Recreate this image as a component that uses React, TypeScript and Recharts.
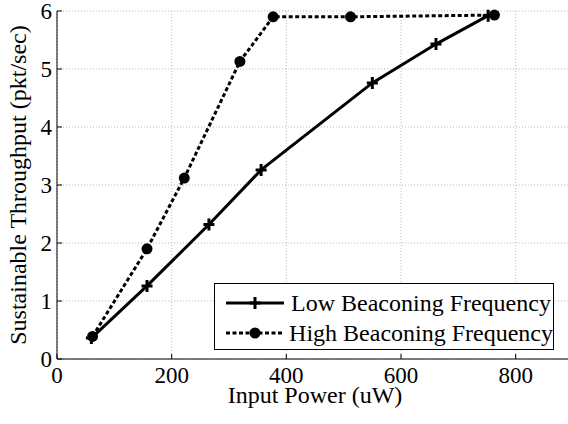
import { LineChart, Line, XAxis, YAxis, CartesianGrid, Legend } from "recharts";

const lowPower = [60, 157, 265, 356, 550, 661, 752];
const lowThroughput = [0.36, 1.26, 2.32, 3.26, 4.76, 5.43, 5.92];
const highPower = [62, 157, 222, 319, 377, 512, 763];
const highThroughput = [0.39, 1.9, 3.12, 5.13, 5.9, 5.9, 5.93];

const xTicks = [0, 200, 400, 600, 800];
const yTicks = [0, 1, 2, 3, 4, 5, 6];
const seriesNames = ["Low Beaconing Frequency", "High Beaconing Frequency"];
const xTitle = "Input Power (uW)";
const yTitle = "Sustainable Throughput (pkt/sec)";

const lowData = lowPower.map((x, i) => ({ x, y: lowThroughput[i] }));
const highData = highPower.map((x, i) => ({ x, y: highThroughput[i] }));

const FONT = "Liberation Serif, Times New Roman, serif";

function XTick(props: any) {
    const { x, y, payload } = props;
    return (
        <text x={x} y={y} dy="0.71em" textAnchor="middle" fill="#000" fontSize={23} fontFamily={FONT}>
            {payload.value}
        </text>
    );
}

function YTick(props: any) {
    const { x, y, payload } = props;
    return (
        <text x={x} y={y} dy="0.355em" textAnchor="end" fill="#000" fontSize={23} fontFamily={FONT}>
            {payload.value}
        </text>
    );
}

function PlusDot(props: any) {
    const { cx, cy } = props;
    if (cx == null || cy == null) return <g />;
    return (
        <path
            d={`M${cx - 5.5},${cy}H${cx + 5.5}M${cx},${cy - 6}V${cy + 6}`}
            stroke="#000"
            strokeWidth={3}
            fill="none"
        />
    );
}

function LegendBox() {
    return (
        <div
            style={{
                width: 340,
                height: 67,
                boxSizing: "border-box",
                border: "1px solid #000",
                background: "#fff",
                fontFamily: FONT,
                fontSize: 24,
                color: "#000",
                paddingTop: 4,
            }}
        >
            {seriesNames.map((name, i) => (
                <div
                    key={name}
                    style={{ display: "flex", alignItems: "center", height: 30, paddingLeft: 11 }}
                >
                    <svg width={58} height={16} style={{ marginRight: 7 }}>
                        <line
                            x1={0}
                            x2={58}
                            y1={8}
                            y2={8}
                            stroke="#000"
                            strokeWidth={3}
                            strokeDasharray={i === 1 ? "4 2.5" : undefined}
                        />
                        {i === 0 ? (
                            <path d="M23.5,8H34.5M29,2V14" stroke="#000" strokeWidth={3} />
                        ) : (
                            <circle cx={29} cy={8} r={5.5} fill="#000" />
                        )}
                    </svg>
                    <span style={{ whiteSpace: "nowrap", lineHeight: "30px" }}>{name}</span>
                </div>
            ))}
        </div>
    );
}

export default function App() {
    return (
        <div
            style={{
                position: "absolute",
                left: 0,
                top: 0,
                width: 568,
                height: 424,
                overflow: "hidden",
                background: "#fff",
            }}
        >
            <LineChart
                width={580}
                height={424}
                margin={{ top: 11, right: 7, bottom: 0, left: 0 }}
            >
                <CartesianGrid stroke="#b8b8b8" strokeDasharray="1 2" />
                <XAxis
                    type="number"
                    dataKey="x"
                    domain={[0, 900]}
                    ticks={xTicks}
                    allowDataOverflow
                    height={65}
                    tickSize={-5}
                    tickMargin={13}
                    tick={<XTick />}
                    axisLine={{ stroke: "#000" }}
                    tickLine={{ stroke: "#000" }}
                    label={{
                        content: (p: any) => {
                            const vb = p.viewBox || { x: 57, width: 516 };
                            return (
                                <text
                                    x={vb.x + vb.width / 2}
                                    y={403}
                                    textAnchor="middle"
                                    fill="#000"
                                    fontSize={24}
                                    fontFamily={FONT}
                                >
                                    {xTitle}
                                </text>
                            );
                        },
                    }}
                />
                <XAxis
                    xAxisId="top"
                    orientation="top"
                    type="number"
                    dataKey="x"
                    domain={[0, 900]}
                    ticks={xTicks}
                    height={0}
                    tickSize={-5}
                    tick={false}
                    axisLine={{ stroke: "#000" }}
                    tickLine={{ stroke: "#000" }}
                />
                <YAxis
                    type="number"
                    domain={[0, 6]}
                    ticks={yTicks}
                    width={57}
                    tickSize={-5}
                    tickMargin={10}
                    tick={<YTick />}
                    axisLine={{ stroke: "#000" }}
                    tickLine={{ stroke: "#000" }}
                    label={{
                        content: (p: any) => {
                            const vb = p.viewBox || { y: 11, height: 348 };
                            const cy = vb.y + vb.height / 2;
                            return (
                                <text
                                    x={25.5}
                                    y={cy}
                                    transform={`rotate(-90, 25.5, ${cy})`}
                                    textAnchor="middle"
                                    fill="#000"
                                    fontSize={24}
                                    fontFamily={FONT}
                                >
                                    {yTitle}
                                </text>
                            );
                        },
                    }}
                />
                <Legend
                    layout="vertical"
                    align="center"
                    verticalAlign="middle"
                    wrapperStyle={{ left: 214, top: 283, width: 340, height: 67 }}
                    content={() => <LegendBox />}
                />
                <Line
                    data={lowData}
                    dataKey="y"
                    name={seriesNames[0]}
                    stroke="#000"
                    strokeWidth={3}
                    dot={(p: any) => <PlusDot key={`low-${p.index}`} {...p} />}
                    isAnimationActive={false}
                />
                <Line
                    data={highData}
                    dataKey="y"
                    name={seriesNames[1]}
                    stroke="#000"
                    strokeWidth={3}
                    strokeDasharray="4 2.5"
                    dot={{ r: 5.5, fill: "#000", stroke: "#000", strokeWidth: 0 }}
                    isAnimationActive={false}
                />
            </LineChart>
        </div>
    );
}
